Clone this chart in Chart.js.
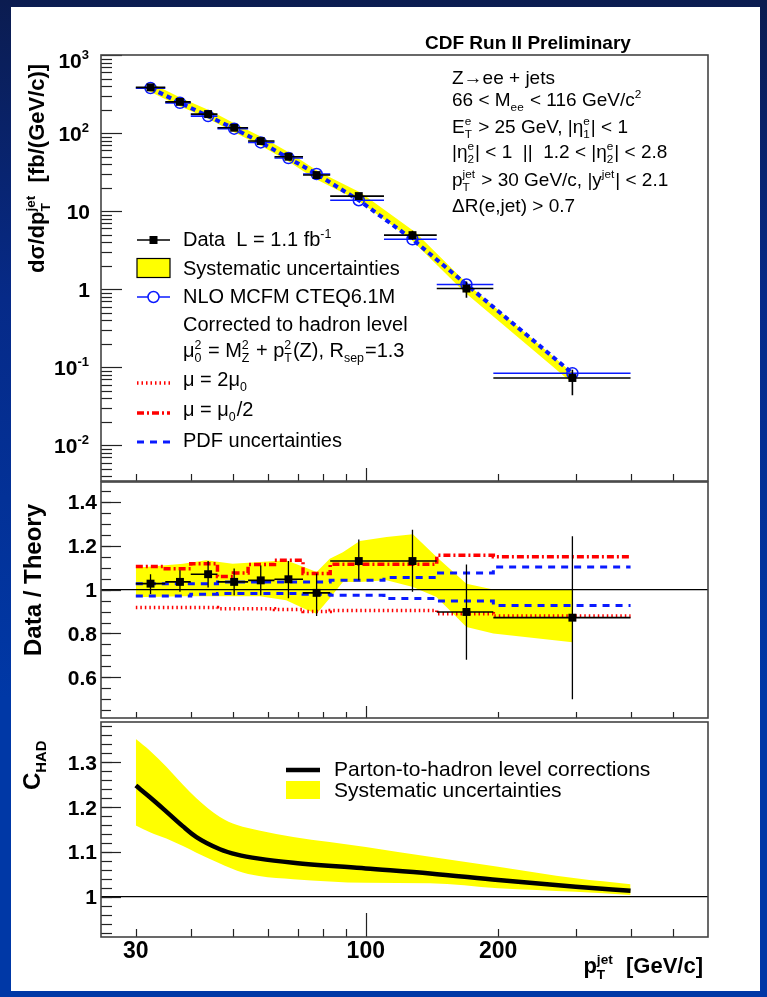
<!DOCTYPE html>
<html>
<head>
<meta charset="utf-8">
<title>Z→ee + jets, CDF Run II</title>
<script src="https://cdn.jsdelivr.net/npm/chart.js@4.4.1/dist/chart.umd.min.js"></script>
<style>
  html, body { margin: 0; padding: 0; }
  body { width: 767px; height: 997px; position: relative; overflow: hidden;
         background: linear-gradient(180deg, #0b1c50 0%, #062a88 30%, #0038a6 70%, #0038a6 100%); }
  #sheet { position: absolute; left: 11px; top: 7px; width: 749px; height: 984px; background: #fff; }
  canvas { position: absolute; left: 0; top: 0; }
</style>
</head>
<body>
<div id="sheet"></div>
<canvas id="xsec" width="767" height="997"></canvas>
<canvas id="ratio" width="767" height="997"></canvas>
<canvas id="chad" width="767" height="997"></canvas>
<script>
// ---------- data ----------
const binEdges = [30, 35, 40, 46, 54, 62, 72, 83, 110, 145, 195, 400];
const ptCenters = [32.4, 37.8, 43.8, 50.2, 57.7, 66.7, 77.3, 96.4, 127.7, 169.4, 295];

// top panel: dsigma/dpT [fb/(GeV/c)]
const dataXsec   = [385, 251, 175, 117, 79, 49.8, 29, 15.6, 4.93, 1.02, 0.073];
const dataXsecLo = [368, 240, 165, 110, 74, 46, 26.5, 14.4, 4.3, 0.78, 0.044];
const dataXsecHi = [402, 266, 186, 124, 84, 54, 31.5, 17, 5.6, 1.26, 0.093];
const nloXsec    = [377, 244, 165, 114, 76, 47.9, 29.9, 13.8, 4.36, 1.15, 0.084];

// middle panel: data / theory
const ratio   = [1.027, 1.035, 1.07, 1.035, 1.042, 1.047, 0.985, 1.13, 1.13, 0.898, 0.872];
const ratioLo = [0.98, 0.99, 1.01, 0.974, 0.974, 0.96, 0.88, 1.042, 0.99, 0.68, 0.5];
const ratioHi = [1.07, 1.088, 1.13, 1.096, 1.11, 1.13, 1.073, 1.228, 1.273, 1.114, 1.243];
const ratioSysPt = [30, 31.5, 38.4, 43.4, 49.8, 57.4, 65.9, 73.8, 77.3, 82.8, 88.7, 96.9, 111.5, 128, 144.7, 169.4, 195, 295];
const ratioSysHi = [1.10, 1.103, 1.118, 1.133, 1.118, 1.126, 1.133, 1.096, 1.08, 1.14, 1.17, 1.221, 1.24, 1.252, 1.149, 1.027, 1.0, 1.0];
const ratioSysLo = [0.965, 0.966, 0.97, 0.97, 0.97, 0.97, 0.951, 0.906, 0.89, 0.96, 1.035, 1.035, 1.042, 1.012, 0.966, 0.83, 0.8, 0.76];
const muHalfEdges = [30, 35, 40, 46, 50, 54, 62, 72, 83, 110, 145, 195, 400];
const muHalf      = [1.105, 1.095, 1.118, 1.06, 1.075, 1.114, 1.133, 1.073, 1.115, 1.115, 1.156, 1.149];
const muTwice     = [0.918, 0.918, 0.918, 0.913, 0.913, 0.909, 0.9, 0.905, 0.905, 0.89, 0.88];
const pdfUp       = [1.027, 1.027, 1.027, 1.035, 1.035, 1.035, 1.035, 1.042, 1.055, 1.076, 1.103];
const pdfDown     = [0.971, 0.971, 0.979, 0.982, 0.982, 0.982, 0.979, 0.974, 0.959, 0.948, 0.928];

// bottom panel: parton-to-hadron corrections
const chadPt = [30, 32.3, 35.2, 38.4, 41.2, 46.6, 51, 57.2, 68.4, 100, 140, 200, 300, 400];
const chad   = [1.248, 1.222, 1.19, 1.157, 1.133, 1.106, 1.094, 1.085, 1.076, 1.063, 1.052, 1.037, 1.022, 1.013];
const chadHi = [1.352, 1.326, 1.29, 1.25, 1.22, 1.178, 1.16, 1.148, 1.133, 1.111, 1.089, 1.067, 1.041, 1.028];
const chadLo = [1.159, 1.144, 1.13, 1.113, 1.098, 1.074, 1.058, 1.046, 1.039, 1.031, 1.03, 1.019, 1.011, 1.004];

// axes
const xRange = [25, 600];
const xTickValues = [30, 100, 200];
const xTickLabels = ['30', '100', '200'];
const xMinorTicks = [30, 40, 50, 60, 70, 80, 90, 200, 300, 400, 500];
const xMajorTicks = [100];
const yTopValues = [1000, 100, 10, 1, 0.1, 0.01];
const yTopLabels = ['10^{3}', '10^{2}', '10', '1', '10^{-1}', '10^{-2}'];
const yMidValues = [1.4, 1.2, 1, 0.8, 0.6];
const yMidLabels = ['1.4', '1.2', '1', '0.8', '0.6'];
const yBotValues = [1.3, 1.2, 1.1, 1];
const yBotLabels = ['1.3', '1.2', '1.1', '1'];
const unity = [1];

const YELLOW = '#ffff00';
const BLUE = '#0a1aff';
const RED = '#ff0000';
const FONT = '"Liberation Sans", Arial, Helvetica, sans-serif';

// ---------- helpers ----------
const binLo = binEdges.slice(0, -1);
const binHi = binEdges.slice(1);
const pts = (xs, ys) => xs.map((x, i) => ({x, y: ys[i]}));
const hBars = (lo, hi, ys) => ys.flatMap((y, i) => [{x: lo[i], y}, {x: hi[i], y}, {x: hi[i], y: null}]);
const vBars = (xs, lo, hi) => xs.flatMap((x, i) => [{x, y: lo[i]}, {x, y: hi[i]}, {x, y: null}]);
const steps = (edges, vals) => vals.map((v, i) => ({x: edges[i], y: v}))
  .concat([{x: edges[vals.length], y: vals[vals.length - 1]}]);
const flat = (v) => [{x: xRange[0], y: v}, {x: xRange[1], y: v}];

const setFont = (ctx, size, bold) => { ctx.font = (bold ? 'bold ' : '') + size + 'px ' + FONT; };

// tiny markup: a_{sub}, a^{sup}; sub and sup written back to back are stacked
function parseRich(str) {
  const out = [];
  let buf = '', i = 0;
  while (i < str.length) {
    const c = str[i];
    if ((c === '_' || c === '^') && str[i + 1] === '{') {
      if (buf) { out.push({t: buf}); buf = ''; }
      const end = str.indexOf('}', i);
      const txt = str.slice(i + 2, end);
      const key = c === '_' ? 'sub' : 'sup';
      const last = out[out.length - 1];
      if (last && last.t === undefined && last[key] === undefined) last[key] = txt;
      else out.push({[key]: txt});
      i = end + 1;
    } else { buf += c; i++; }
  }
  if (buf) out.push({t: buf});
  return out;
}

function drawRich(ctx, item) {
  const size = item.size || 19, bold = !!item.bold, small = size * 0.62;
  const groups = parseRich(item.s);
  const widths = groups.map(g => {
    if (g.t !== undefined) { setFont(ctx, size, bold); return ctx.measureText(g.t).width; }
    setFont(ctx, small, bold);
    return Math.max(g.sub ? ctx.measureText(g.sub).width : 0, g.sup ? ctx.measureText(g.sup).width : 0) + 1;
  });
  const total = widths.reduce((a, b) => a + b, 0);
  ctx.save();
  ctx.translate(item.x, item.y);
  if (item.rot) ctx.rotate(item.rot);
  ctx.fillStyle = item.color || '#000';
  ctx.textBaseline = 'alphabetic';
  ctx.textAlign = 'left';
  let cx = item.align === 'right' ? -total : item.align === 'center' ? -total / 2 : 0;
  groups.forEach((g, i) => {
    if (g.t !== undefined) { setFont(ctx, size, bold); ctx.fillText(g.t, cx, 0); }
    else {
      setFont(ctx, small, bold);
      if (g.sub) ctx.fillText(g.sub, cx, size * 0.27);
      if (g.sup) ctx.fillText(g.sup, cx, -size * 0.42);
    }
    cx += widths[i];
  });
  ctx.restore();
}

function seg(ctx, x0, x1, y, color, w, dash) {
  ctx.save();
  ctx.strokeStyle = color; ctx.lineWidth = w; ctx.setLineDash(dash || []);
  ctx.beginPath(); ctx.moveTo(x0, y); ctx.lineTo(x1, y); ctx.stroke();
  ctx.restore();
}

function legendSymbol(ctx, s) {
  const xm = (s.x0 + s.x1) / 2;
  switch (s.kind) {
    case 'data':
      seg(ctx, s.x0, s.x1, s.y, '#000', 1.5);
      ctx.fillStyle = '#000'; ctx.fillRect(xm - 4, s.y - 4, 8, 8); break;
    case 'band':
      ctx.fillStyle = YELLOW; ctx.fillRect(s.x0, s.y - 9.5, s.x1 - s.x0, 19);
      ctx.strokeStyle = '#000'; ctx.lineWidth = 1.2; ctx.strokeRect(s.x0, s.y - 9.5, s.x1 - s.x0, 19); break;
    case 'box':
      ctx.fillStyle = YELLOW; ctx.fillRect(s.x0, s.y - 9, s.x1 - s.x0, 18); break;
    case 'nlo':
      seg(ctx, s.x0, s.x1, s.y, BLUE, 1.5);
      ctx.fillStyle = '#fff'; ctx.strokeStyle = BLUE; ctx.lineWidth = 1.5;
      ctx.beginPath(); ctx.arc(xm, s.y, 5.5, 0, Math.PI * 2); ctx.fill(); ctx.stroke(); break;
    case 'dot': seg(ctx, s.x0, s.x1, s.y, RED, 3.5, [1.5, 3]); break;
    case 'dashdot': seg(ctx, s.x0, s.x1, s.y, RED, 3.5, [7, 3, 2, 3]); break;
    case 'dash': seg(ctx, s.x0, s.x1, s.y, BLUE, 3, [7, 6]); break;
    case 'thick': seg(ctx, s.x0, s.x1, s.y, '#000', 4.5); break;
  }
}

// ROOT-like frame: inward ticks, tick labels, free text and legend
const rootPlugin = {
  id: 'rootFrame',
  afterDraw(chart, args, o) {
    const {ctx, chartArea: a} = chart;
    const xs = chart.scales.x, ys = chart.scales.y;
    ctx.save();
    ctx.strokeStyle = '#222';
    ctx.lineWidth = 1.2;
    const tick = (x0, y0, x1, y1) => { ctx.beginPath(); ctx.moveTo(x0, y0); ctx.lineTo(x1, y1); ctx.stroke(); };
    o.yMinor.forEach(v => { const p = Math.round(ys.getPixelForValue(v)) + 0.5; tick(a.left, p, a.left + o.yLen[1], p); });
    o.yMajor.forEach(v => { const p = Math.round(ys.getPixelForValue(v)) + 0.5; tick(a.left, p, a.left + o.yLen[0], p); });
    xMinorTicks.forEach(v => { const p = Math.round(xs.getPixelForValue(v)) + 0.5; tick(p, a.bottom, p, a.bottom - o.xLen[1]); });
    xMajorTicks.forEach(v => { const p = Math.round(xs.getPixelForValue(v)) + 0.5; tick(p, a.bottom, p, a.bottom - o.xLen[0]); });
    ctx.strokeStyle = '#444';
    ctx.lineWidth = 1.6;
    ctx.strokeRect(a.left, a.top, a.width, a.height);
    ctx.restore();

    const yl = o.yLabels;
    yl.values.forEach((v, i) => drawRich(ctx, {s: yl.labels[i], x: yl.x, y: ys.getPixelForValue(v) + yl.dy + (i === 0 ? (yl.firstShift || 0) : 0),
      size: yl.size, bold: true, align: 'right'}));
    if (o.xLabels) {
      const xl = o.xLabels;
      xl.values.forEach((v, i) => drawRich(ctx, {s: xl.labels[i], x: xs.getPixelForValue(v), y: xl.y,
        size: xl.size, bold: true, align: 'center'}));
    }
    (o.symbols || []).forEach(s => legendSymbol(ctx, s));
    (o.texts || []).forEach(t => drawRich(ctx, t));
  }
};

function baseOptions(yScale, padding, frame) {
  return {
    responsive: false,
    animation: false,
    devicePixelRatio: 1,
    events: [],
    layout: {padding},
    elements: {point: {radius: 0}, line: {tension: 0}},
    scales: {
      x: {type: 'logarithmic', min: xRange[0], max: xRange[1], display: false},
      y: Object.assign({display: false}, yScale)
    },
    plugins: {legend: {display: false}, tooltip: {enabled: false}, rootFrame: frame}
  };
}

const line = (data, color, width, extra) => Object.assign({
  data, borderColor: color, borderWidth: width, fill: false, pointRadius: 0, spanGaps: false
}, extra || {});

const ROT = -Math.PI / 2;

// ---------- top panel: cross section ----------
const logMinor = [];
[0.001, 0.01, 0.1, 1, 10, 100].forEach(d => { for (let k = 2; k <= 9; k++) if (k * d > 0.0035) logMinor.push(k * d); });

new Chart(document.getElementById('xsec'), {
  type: 'line',
  data: {
    datasets: [
      line(pts(ptCenters, dataXsec), '#000', 0, {showLine: false, pointStyle: 'rect', pointRadius: 5.6,
        pointBackgroundColor: '#000', pointBorderWidth: 0}),
      line(hBars(binLo, binHi, dataXsec), '#000', 1.6),
      line(vBars(ptCenters, dataXsecLo, dataXsecHi), '#000', 1.6),
      line(pts(ptCenters, nloXsec), BLUE, 0, {showLine: false, pointStyle: 'circle', pointRadius: 5.5,
        pointBorderColor: BLUE, pointBorderWidth: 1.5, pointBackgroundColor: 'rgba(255,255,255,0)'}),
      line(hBars(binLo, binHi, nloXsec), BLUE, 1.6),
      line(pts(ptCenters, nloXsec), BLUE, 4, {borderDash: [5, 4]}),
      line(pts(ptCenters, dataXsec), YELLOW, 8)
    ]
  },
  options: baseOptions({type: 'logarithmic', min: 0.0035, max: 1000},
    {left: 101, right: 59, top: 55, bottom: 516},
    {
      yMajor: yTopValues, yMinor: logMinor, yLen: [21, 11], xLen: [13, 7],
      yLabels: {values: yTopValues, labels: yTopLabels, x: 90, dy: 7.5, size: 21, firstShift: 5},
      symbols: [
        {kind: 'data', x0: 137, x1: 170, y: 240},
        {kind: 'band', x0: 137, x1: 170, y: 268},
        {kind: 'nlo', x0: 137, x1: 170, y: 297},
        {kind: 'dot', x0: 137, x1: 170, y: 383},
        {kind: 'dashdot', x0: 137, x1: 170, y: 413},
        {kind: 'dash', x0: 137, x1: 170, y: 442}
      ],
      texts: [
        {s: 'CDF Run II Preliminary', x: 425, y: 49, size: 19, bold: true},
        {s: 'Z→ee + jets', x: 452, y: 84, size: 19},
        {s: '66 < M_{ee} < 116 GeV/c^{2}', x: 452, y: 106, size: 19},
        {s: 'E_{T}^{e} > 25 GeV, |η_{1}^{e}| < 1', x: 452, y: 132.5, size: 19},
        {s: '|η_{2}^{e}| < 1  ||  1.2 < |η_{2}^{e}| < 2.8', x: 452, y: 158, size: 19},
        {s: 'p_{T}^{jet} > 30 GeV/c, |y^{jet}| < 2.1', x: 452, y: 186, size: 19},
        {s: 'ΔR(e,jet) > 0.7', x: 452, y: 212, size: 19},
        {s: 'Data  L = 1.1 fb^{-1}', x: 183, y: 246, size: 20},
        {s: 'Systematic uncertainties', x: 183, y: 275, size: 20},
        {s: 'NLO MCFM CTEQ6.1M', x: 183, y: 303, size: 20},
        {s: 'Corrected to hadron level', x: 183, y: 331, size: 20},
        {s: 'μ_{0}^{2} = M_{Z}^{2} + p_{T}^{2}(Z), R_{sep}=1.3', x: 183, y: 357, size: 20},
        {s: 'μ = 2μ_{0}', x: 183, y: 386, size: 20},
        {s: 'μ = μ_{0}/2', x: 183, y: 416, size: 20},
        {s: 'PDF uncertainties', x: 183, y: 447, size: 20},
        {s: 'dσ/dp_{T}^{jet}  [fb/(GeV/c)]', x: 44, y: 273, size: 22, bold: true, rot: ROT}
      ]
    }),
  plugins: [rootPlugin]
});

// ---------- middle panel: data / theory ----------
const midMinor = [];
for (let v = 0.45; v < 1.49; v += 0.05) midMinor.push(Math.round(v * 100) / 100);

new Chart(document.getElementById('ratio'), {
  type: 'line',
  data: {
    datasets: [
      line(pts(ptCenters, ratio), '#000', 0, {showLine: false, pointStyle: 'rect', pointRadius: 5.6,
        pointBackgroundColor: '#000', pointBorderWidth: 0}),
      line(hBars(binLo, binHi, ratio), '#000', 1.6),
      line(vBars(ptCenters, ratioLo, ratioHi), '#000', 1.3),
      line(flat(unity[0]), '#000', 1.3),
      line(steps(muHalfEdges, muHalf), RED, 3.5, {stepped: true, borderDash: [7, 3, 2, 3]}),
      line(steps(binEdges, pdfUp), BLUE, 3, {stepped: true, borderDash: [7, 6]}),
      line(steps(binEdges, pdfDown), BLUE, 3, {stepped: true, borderDash: [7, 6]}),
      line(steps(binEdges, muTwice), RED, 3.5, {stepped: true, borderDash: [1.5, 3]}),
      line(pts(ratioSysPt, ratioSysHi), YELLOW, 0, {fill: '+1', backgroundColor: YELLOW}),
      line(pts(ratioSysPt, ratioSysLo), YELLOW, 0)
    ]
  },
  options: baseOptions({type: 'linear', min: 0.415, max: 1.49},
    {left: 101, right: 59, top: 482, bottom: 279},
    {
      yMajor: yMidValues, yMinor: midMinor, yLen: [20, 10], xLen: [12, 6],
      yLabels: {values: yMidValues, labels: yMidLabels, x: 97, dy: 7.5, size: 21},
      texts: [
        {s: 'Data / Theory', x: 41, y: 580, size: 24, bold: true, rot: ROT, align: 'center'}
      ]
    }),
  plugins: [rootPlugin]
});

// ---------- bottom panel: C_HAD ----------
const botMinor = [];
for (let v = 0.92; v < 1.39; v += 0.02) botMinor.push(Math.round(v * 100) / 100);

new Chart(document.getElementById('chad'), {
  type: 'line',
  data: {
    datasets: [
      line(pts(chadPt, chad), '#000', 4.5, {cubicInterpolationMode: 'monotone'}),
      line(flat(unity[0]), '#000', 1.3),
      line(pts(chadPt, chadHi), YELLOW, 0, {fill: '+1', backgroundColor: YELLOW, cubicInterpolationMode: 'monotone'}),
      line(pts(chadPt, chadLo), YELLOW, 0, {cubicInterpolationMode: 'monotone'})
    ]
  },
  options: baseOptions({type: 'linear', min: 0.91, max: 1.39},
    {left: 101, right: 59, top: 722, bottom: 60},
    {
      yMajor: yBotValues, yMinor: botMinor, yLen: [20, 11], xLen: [24, 8],
      yLabels: {values: yBotValues, labels: yBotLabels, x: 97, dy: 7.5, size: 21},
      xLabels: {values: xTickValues, labels: xTickLabels, y: 958, size: 23},
      symbols: [
        {kind: 'thick', x0: 286, x1: 320, y: 770},
        {kind: 'box', x0: 286, x1: 320, y: 790}
      ],
      texts: [
        {s: 'Parton-to-hadron level corrections', x: 334, y: 776, size: 21},
        {s: 'Systematic uncertainties', x: 334, y: 797, size: 21},
        {s: 'C_{HAD}', x: 40, y: 790, size: 24, bold: true, rot: ROT},
        {s: 'p_{T}^{jet}  [GeV/c]', x: 703, y: 973, size: 22, bold: true, align: 'right'}
      ]
    }),
  plugins: [rootPlugin]
});
</script>
</body>
</html>
